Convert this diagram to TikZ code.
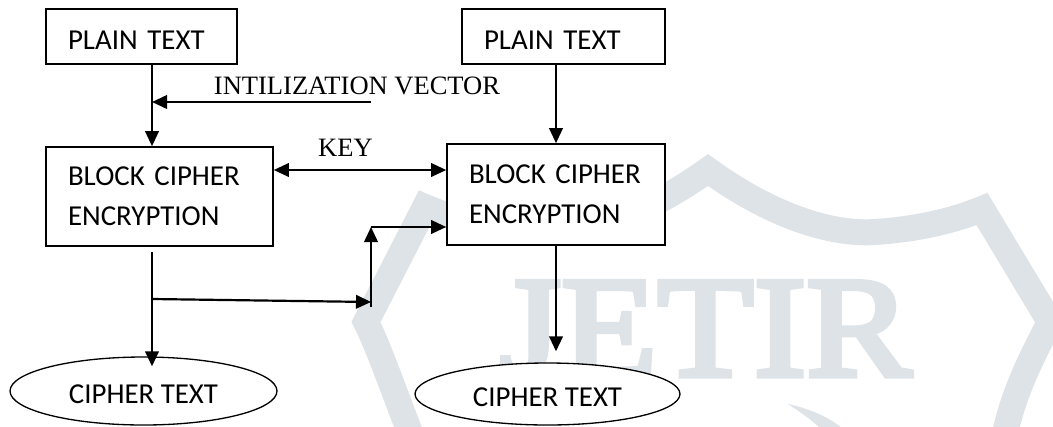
\documentclass[tikz,border=0pt]{standalone}
\usepackage{fontspec}
\setmainfont{Carlito}
\newfontfamily\labelfont{Liberation Serif}
\newfontfamily\markfont{Liberation Serif}[FakeBold=4, FakeStretch=1.1]
\usetikzlibrary{arrows.meta, shapes.geometric, positioning}
\definecolor{wmgray}{HTML}{DDE3E7}

\tikzset{
  blockbox/.style={draw, line width=0.95pt, fill=white, align=left,
    inner xsep=0.44cm, inner ysep=0pt, font=\fontsize{16.44}{22.7}\selectfont},
  cipher/.style={ellipse, draw, line width=0.75pt, fill=white, inner sep=0pt,
    text height=0.5cm, font=\fontsize{16.44}{20}\selectfont},
  lbl/.style={inner sep=0pt, font=\labelfont\fontsize{15.1}{18}\selectfont},
  arr/.style={line width=1.25pt, -{Triangle[length=0.3cm, width=0.27cm]}},
  dbl/.style={line width=1.25pt, {Triangle[length=0.3cm, width=0.27cm]}-{Triangle[length=0.3cm, width=0.27cm]}}
}

\begin{document}
\begin{tikzpicture}[x=0.02cm, y=-0.02cm]
\useasboundingbox (0,0) rectangle (1053,426);

% faint badge behind the diagram
\begin{scope}[wmgray]
\draw[line width=0.52cm, line join=miter] (415,445) .. controls (395,395) and (380,350) .. (366,322)
  -- (425,207) .. controls (455,220) and (495,229) .. (540,232)
  .. controls (585,235) and (645,215) .. (708,170)
  .. controls (770,215) and (830,235) .. (875,232)
  .. controls (920,229) and (955,220) .. (982,209)
  -- (1050,322) .. controls (1030,360) and (1010,400) .. (1003,445);
\fill (788,404) .. controls (815,410) and (835,420) .. (848,434) -- (826,434)
  .. controls (815,422) and (800,412) .. cycle;
\node[text=wmgray, inner sep=0pt, font=\markfont\fontsize{81.6}{90}\selectfont] (logo)
  at (705.5,329.5) {JETIR};
\end{scope}

% boxes
\node[blockbox, text width=2.94cm, minimum height=1.1cm, text height=0.534cm] (plain1) at (141.5,36.5) {PLAIN TEXT};
\node[blockbox, text width=3.18cm, minimum height=1.1cm, text height=0.534cm] (plain2) at (563.5,36.5) {PLAIN TEXT};
\node[blockbox, text width=3.66cm, minimum height=1.98cm] (block1) at (159.5,196.5) {BLOCK CIPHER\\ENCRYPTION};
\node[blockbox, text width=3.48cm, minimum height=2.02cm] (block2) at (556,194.5) {BLOCK CIPHER\\ENCRYPTION};
\node[cipher, minimum width=5.34cm, minimum height=1.36cm] (cipher1) at (143.5,391) {CIPHER TEXT};
\node[cipher, minimum width=5.3cm, minimum height=1.24cm] (cipher2) at (547.5,394) {CIPHER TEXT};

% labels
\node[lbl] (ivlabel) at (357,86) {INTILIZATION VECTOR};
\node[lbl] (keylabel) at (345.5,148) {KEY};

% joints
\coordinate (ivjoin) at (152,102);
\coordinate (ivstart) at (371,102);
\coordinate (keyrow) at (360,170);
\coordinate (drop) at (152,252);
\coordinate (split) at (152,299);
\coordinate (tee) at (371,302);
\coordinate (teelow) at (371,307);
\coordinate (corner) at (371,227);

% arrows
\draw[arr] (plain1.south -| ivjoin) -- (block1.north -| ivjoin);
\draw[arr] (ivstart) -- (ivjoin);
\draw[dbl] (block1.east |- keyrow) -- (block2.west |- keyrow);
\draw[arr] (plain2.south -| block2) -- (block2.north);
\draw[arr, shorten >=-0.2cm] (drop) -- (cipher1.north -| drop);
\draw[arr] (split) -- (tee);
\draw[arr] (teelow) -- (corner);
\draw[arr] (corner) -- (block2.west |- corner);
\draw[arr, shorten >=0.22cm] (block2.south) -- (cipher2.north -| block2.south);
\end{tikzpicture}
\end{document}
